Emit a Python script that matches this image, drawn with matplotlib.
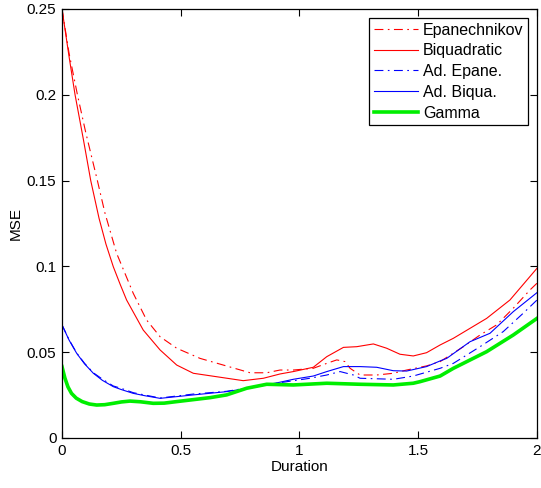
import matplotlib
matplotlib.use('Agg')
import matplotlib.pyplot as plt

# --- donnees ---
x_epa = [0, 0.03, 0.065, 0.1, 0.149, 0.181, 0.23, 0.30, 0.356, 0.413, 0.483, 0.581, 0.679, 0.792, 0.862,
         0.918, 0.974, 1.058, 1.115, 1.157, 1.192, 1.213, 1.255, 1.325, 1.395, 1.451, 1.535,
         1.592, 1.69, 1.76, 1.83, 1.9, 1.97, 2.0]
y_epa = [0.25, 0.224, 0.2, 0.178, 0.15, 0.131, 0.1076, 0.0843, 0.0688, 0.059, 0.0523, 0.0464, 0.0425, 0.038, 0.038,
         0.0396, 0.0396, 0.0406, 0.0435, 0.0455, 0.0445, 0.0406, 0.0367, 0.0367, 0.0377, 0.0396, 0.042,
         0.0445, 0.0532, 0.06, 0.0659, 0.0756, 0.0862, 0.0902]

x_biq = [0, 0.03, 0.055, 0.09, 0.121, 0.156, 0.185, 0.216, 0.245, 0.272, 0.342, 0.413, 0.483, 0.553, 0.651, 0.763,
         0.848, 0.918, 0.974, 1.058, 1.115, 1.185, 1.241, 1.311, 1.367, 1.423, 1.479, 1.535,
         1.592, 1.648, 1.788, 1.886, 2.0]
y_biq = [0.25, 0.222, 0.2, 0.174, 0.15, 0.128, 0.113, 0.0998, 0.0895, 0.0804, 0.0629, 0.0513, 0.0425, 0.0377, 0.0357, 0.0334,
         0.0348, 0.0373, 0.0387, 0.0412, 0.0474, 0.0528, 0.0532, 0.0548, 0.0523, 0.0488, 0.0478, 0.0497,
         0.0542, 0.0581, 0.0697, 0.0804, 0.0989]

x_ad_epa = [0, 0.03, 0.062, 0.095, 0.132, 0.17, 0.216, 0.25, 0.3, 0.35, 0.413, 0.553, 0.693, 0.806, 0.918, 1.044, 1.115, 1.171,
            1.227, 1.255, 1.395, 1.479, 1.592, 1.648, 1.76, 1.858, 1.942, 2.0]
y_ad_epa = [0.0659, 0.0572, 0.0495, 0.0435, 0.038, 0.0343, 0.0303, 0.0289, 0.0264, 0.025, 0.0233, 0.0256, 0.0272, 0.0297, 0.0322, 0.0348, 0.0367, 0.0387,
            0.0367, 0.0348, 0.0342, 0.0361, 0.0406, 0.0435, 0.0532, 0.062, 0.0727, 0.0804]

x_ad_biq = [0, 0.03, 0.062, 0.095, 0.132, 0.17, 0.216, 0.25, 0.3, 0.35, 0.413, 0.553, 0.693, 0.806, 0.918, 0.974, 1.058, 1.115,
            1.185, 1.255, 1.325, 1.395, 1.451, 1.535, 1.592, 1.62, 1.718, 1.802, 1.9, 2.0]
y_ad_biq = [0.0659, 0.057, 0.0493, 0.0432, 0.0377, 0.0336, 0.0299, 0.0282, 0.026, 0.0246, 0.0231, 0.0251, 0.027, 0.0295, 0.0325, 0.0342, 0.0361, 0.0387,
            0.0416, 0.0416, 0.0412, 0.0392, 0.039, 0.0416, 0.0449, 0.0464, 0.0561, 0.061, 0.0736, 0.0847]

x_gam = [0, 0.012, 0.025, 0.04, 0.06, 0.085, 0.115, 0.146, 0.18, 0.216, 0.25, 0.286, 0.33, 0.384, 0.43, 0.483, 0.623, 0.693, 0.778, 0.862,
         0.974, 1.115, 1.255, 1.395, 1.479, 1.507, 1.592, 1.648, 1.788, 1.9, 2.0]
y_gam = [0.0416, 0.035, 0.0298, 0.026, 0.0232, 0.0212, 0.0198, 0.0192, 0.0194, 0.0202, 0.021, 0.0215, 0.0211, 0.0202, 0.0203, 0.0212, 0.0235, 0.0251, 0.029, 0.0313,
         0.0309, 0.0319, 0.0313, 0.0309, 0.0319, 0.0328, 0.0361, 0.0406, 0.0503, 0.06, 0.0697]

plt.rcParams['font.family'] = ['Liberation Sans', 'DejaVu Sans']
plt.rcParams['font.size'] = 11

fig = plt.figure(figsize=(5.41, 4.88), dpi=100)
ax = fig.add_axes([0.1146, 0.1025, 0.878, 0.8791])

dashdot = (0, (8, 4, 1.5, 4))
ax.plot(x_epa, y_epa, color='#ff0000', lw=0.8, linestyle=dashdot, label='Epanechnikov')
ax.plot(x_biq, y_biq, color='#ff0000', lw=0.8, label='Biquadratic')
ax.plot(x_ad_epa, y_ad_epa, color='#0000ff', lw=0.8, linestyle=dashdot, label='Ad. Epane.')
ax.plot(x_ad_biq, y_ad_biq, color='#0000ff', lw=0.8, label='Ad. Biqua.')
ax.plot(x_gam, y_gam, color='#00ee00', lw=2.6, label='Gamma')

ax.set_xlim(0, 2)
ax.set_ylim(0, 0.25)
ax.set_xticks([0, 0.5, 1, 1.5, 2])
ax.set_xticklabels(['0', '0.5', '1', '1.5', '2'])
ax.set_yticks([0, 0.05, 0.1, 0.15, 0.2, 0.25])
ax.set_yticklabels(['0', '0.05', '0.1', '0.15', '0.2', '0.25'])
ax.tick_params(direction='in', top=True, right=True, length=5, width=0.8, pad=4)
for s in ax.spines.values():
    s.set_linewidth(0.9)

ax.set_xlabel('Duration', labelpad=2)
ax.set_ylabel('MSE', labelpad=3)

leg = ax.legend(loc='upper right', fancybox=False, framealpha=1, edgecolor='black',
                handlelength=2.75, labelspacing=0.36, borderpad=0.3, handletextpad=0.3,
                borderaxespad=0.55, fontsize=11.5)
leg.get_frame().set_linewidth(0.9)

plt.savefig('out.png', dpi=100)
